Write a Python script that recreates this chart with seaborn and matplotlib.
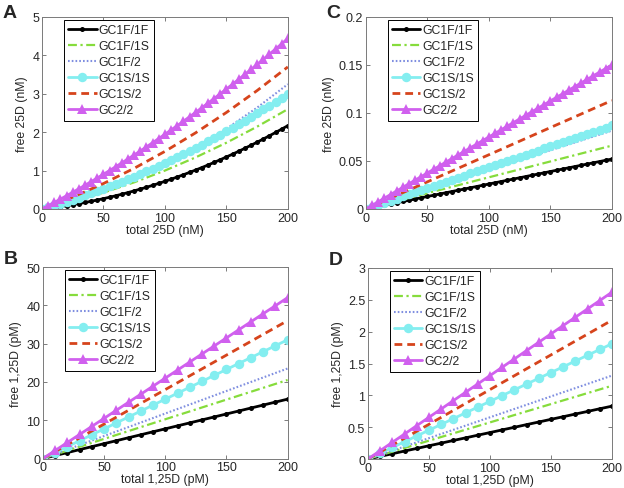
import matplotlib
matplotlib.use("Agg")
import matplotlib.pyplot as plt
import matplotlib.ticker as mticker
import seaborn as sns

# x grids
x_fine = [0, 5, 10, 15, 20, 25, 30, 35, 40, 45, 50, 55, 60, 65, 70, 75, 80, 85, 90, 95,
          100, 105, 110, 115, 120, 125, 130, 135, 140, 145, 150, 155, 160, 165, 170, 175,
          180, 185, 190, 195, 200]
x_coarse = [0, 10, 20, 30, 40, 50, 60, 70, 80, 90, 100, 110, 120, 130, 140, 150, 160,
            170, 180, 190, 200]
x_sparse_a = [0, 25, 50, 75, 100, 125, 150, 175, 200]
x_sparse = [0, 50, 100, 150, 200]

labels = ["GC1F/1F", "GC1F/1S", "GC1F/2", "GC1S/1S", "GC1S/2", "GC2/2"]

# panel A: free 25D (nM)
a_1f1f = [0, 0.019, 0.039, 0.062, 0.086, 0.112, 0.139, 0.169, 0.200, 0.234, 0.269, 0.306,
          0.344, 0.385, 0.427, 0.472, 0.518, 0.565, 0.615, 0.667, 0.720, 0.775, 0.832, 0.891,
          0.952, 1.014, 1.078, 1.144, 1.212, 1.282, 1.354, 1.427, 1.502, 1.580, 1.658, 1.739,
          1.822, 1.906, 1.992, 2.080, 2.170]
a_1f1s = [0, 0.194, 0.425, 0.694, 1.0, 1.344, 1.725, 2.144, 2.6]
a_1f2 = [0, 0.202, 0.463, 0.782, 1.159, 1.594, 2.088, 2.640, 3.25]
a_1s1s = [0, 0.046, 0.093, 0.142, 0.192, 0.244, 0.297, 0.352, 0.408, 0.466, 0.525, 0.586,
          0.648, 0.712, 0.777, 0.844, 0.912, 0.982, 1.053, 1.126, 1.200, 1.276, 1.353, 1.432,
          1.512, 1.594, 1.677, 1.762, 1.848, 1.936, 2.025, 2.116, 2.208, 2.302, 2.397, 2.494,
          2.592, 2.692, 2.793, 2.896, 3.000]
a_1s2 = [0, 0.309, 0.663, 1.059, 1.5, 1.984, 2.513, 3.084, 3.7]
a_22 = [0, 0.084, 0.170, 0.257, 0.345, 0.435, 0.526, 0.618, 0.712, 0.807, 0.904, 1.002,
        1.101, 1.202, 1.304, 1.407, 1.512, 1.618, 1.726, 1.835, 1.945, 2.057, 2.170, 2.284,
        2.400, 2.517, 2.636, 2.756, 2.877, 3.000, 3.124, 3.249, 3.376, 3.504, 3.634, 3.765,
        3.897, 4.031, 4.166, 4.302, 4.440]

# panel C: free 25D (nM)
c_1f1f = [0, 0.0013, 0.0026, 0.0039, 0.0052, 0.0065, 0.0078, 0.0091, 0.0104, 0.0117, 0.013,
          0.0143, 0.0156, 0.0169, 0.0182, 0.0195, 0.0208, 0.0221, 0.0234, 0.0247, 0.026,
          0.0273, 0.0286, 0.0299, 0.0312, 0.0325, 0.0338, 0.0351, 0.0364, 0.0377, 0.039,
          0.0403, 0.0416, 0.0429, 0.0442, 0.0455, 0.0468, 0.0481, 0.0494, 0.0507, 0.052]
c_1f1s = [0, 0.0165, 0.033, 0.0495, 0.066]
c_1f2 = [0, 0.0204, 0.0408, 0.0612, 0.0816]
c_1s1s = [0, 0.0022, 0.0044, 0.0065, 0.0087, 0.0109, 0.0131, 0.0152, 0.0174, 0.0196, 0.0218,
          0.0239, 0.0261, 0.0283, 0.0305, 0.0326, 0.0348, 0.037, 0.0392, 0.0413, 0.0435,
          0.0457, 0.0479, 0.05, 0.0522, 0.0544, 0.0566, 0.0587, 0.0609, 0.0631, 0.0653,
          0.0674, 0.0696, 0.0718, 0.074, 0.0761, 0.0783, 0.0805, 0.0827, 0.0848, 0.087]
c_1s2 = [0, 0.0283, 0.0565, 0.0848, 0.113]
c_22 = [0, 0.0038, 0.0075, 0.0113, 0.015, 0.0188, 0.0225, 0.0263, 0.03, 0.0338, 0.0375,
        0.0413, 0.045, 0.0488, 0.0525, 0.0563, 0.06, 0.0638, 0.0675, 0.0713, 0.075, 0.0788,
        0.0825, 0.0863, 0.09, 0.0938, 0.0975, 0.1013, 0.105, 0.1088, 0.1125, 0.1163, 0.12,
        0.1238, 0.1275, 0.1313, 0.135, 0.1388, 0.1425, 0.1463, 0.15]

# panel B: free 1,25D (pM)
b_1f1f = [0, 0.78, 1.55, 2.33, 3.1, 3.88, 4.65, 5.43, 6.2, 6.98, 7.75, 8.53, 9.3, 10.08,
          10.85, 11.63, 12.4, 13.18, 13.95, 14.73, 15.5]
b_1f1s = [0, 5.13, 10.25, 15.38, 20.5]
b_1f2 = [0, 5.88, 11.75, 17.63, 23.5]
b_1s1s = [0, 1.55, 3.1, 4.65, 6.2, 7.75, 9.3, 10.85, 12.4, 13.95, 15.5, 17.05, 18.6, 20.15,
          21.7, 23.25, 24.8, 26.35, 27.9, 29.45, 31]
b_1s2 = [0, 9, 18, 27, 36]
b_22 = [0, 2.1, 4.2, 6.3, 8.4, 10.5, 12.6, 14.7, 16.8, 18.9, 21, 23.1, 25.2, 27.3, 29.4,
        31.5, 33.6, 35.7, 37.8, 39.9, 42]

# panel D: free 1,25D (pM)
d_1f1f = [0, 0.042, 0.083, 0.125, 0.166, 0.208, 0.249, 0.291, 0.332, 0.374, 0.415, 0.457,
          0.498, 0.54, 0.581, 0.623, 0.664, 0.706, 0.747, 0.789, 0.83]
d_1f1s = [0, 0.288, 0.575, 0.863, 1.15]
d_1f2 = [0, 0.328, 0.655, 0.983, 1.31]
d_1s1s = [0, 0.091, 0.181, 0.272, 0.362, 0.453, 0.543, 0.634, 0.724, 0.815, 0.905, 0.996,
          1.086, 1.177, 1.267, 1.358, 1.448, 1.539, 1.629, 1.72, 1.81]
d_1s2 = [0, 0.545, 1.09, 1.635, 2.18]
d_22 = [0, 0.131, 0.262, 0.393, 0.524, 0.655, 0.786, 0.917, 1.048, 1.179, 1.31, 1.441,
        1.572, 1.703, 1.834, 1.965, 2.096, 2.227, 2.358, 2.489, 2.62]

sns.set_style("ticks")
plt.rcParams["font.family"] = ["Liberation Sans", "DejaVu Sans"]

# matlab-ish line styles
styles = [
    dict(color="black", linestyle="-", marker="o", markersize=3.6, linewidth=2.0),
    dict(color="#86dc3c", linestyle=(0, (4, 1.6, 1, 1.6)), marker=None, linewidth=1.6),
    dict(color="#7f8ee0", linestyle=(0, (0.8, 1.0)), marker=None, linewidth=1.5),
    dict(color="#84eef0", linestyle="-", marker="o", markersize=6.8, linewidth=2.0),
    dict(color="#d6441c", linestyle=(0, (2.8, 1.8)), marker=None, linewidth=2.0),
    dict(color="#d060ee", linestyle="-", marker="^", markersize=7.8, linewidth=2.0),
]


def panel(ax, xm, xl, series, ymax, yticks, xlabel, ylabel, letter, letter_y):
    for i, (lab, ys) in enumerate(zip(labels, series)):
        xs = xm if styles[i]["marker"] else xl
        sns.lineplot(x=xs, y=ys, ax=ax, label=lab, sort=False,
                     markeredgewidth=0, **styles[i])
    ax.set_xlim(0, 200)
    ax.set_ylim(0, ymax)
    ax.set_xticks([0, 50, 100, 150, 200])
    ax.set_yticks(yticks)
    ax.yaxis.set_major_formatter(mticker.FormatStrFormatter("%g"))
    ax.tick_params(direction="in", top=True, right=True, length=3, width=0.6,
                   color="#666666", labelsize=9, pad=2)
    for s in ax.spines.values():
        s.set_color("#7a7a7a")
        s.set_linewidth(0.7)
    ax.set_xlabel(xlabel, fontsize=8.8, labelpad=0)
    ax.set_ylabel(ylabel, fontsize=8.8, labelpad=3)
    leg = ax.legend(loc="upper left", bbox_to_anchor=(0.09, 0.985), fontsize=8.8,
                    frameon=True, fancybox=False, framealpha=1, edgecolor="black",
                    handlelength=2.3, handletextpad=0.15, labelspacing=0.33,
                    borderpad=0.35, borderaxespad=0)
    leg.get_frame().set_linewidth(0.7)
    ax.text(-0.16, letter_y, letter, transform=ax.transAxes, fontsize=14,
            fontweight="bold", ha="left", va="center")


fig = plt.figure(figsize=(6.24, 4.89), dpi=100)
axA = fig.add_axes([0.0673, 0.5706, 0.394, 0.3926])
axC = fig.add_axes([0.5865, 0.5706, 0.394, 0.3926])
axB = fig.add_axes([0.0689, 0.0603, 0.392, 0.3916])
axD = fig.add_axes([0.5897, 0.0593, 0.391, 0.3906])

panel(axA, x_fine, x_sparse_a, [a_1f1f, a_1f1s, a_1f2, a_1s1s, a_1s2, a_22],
      5, [0, 1, 2, 3, 4, 5], "total 25D (nM)", "free 25D (nM)", "A", 1.026)
panel(axC, x_fine, x_sparse, [c_1f1f, c_1f1s, c_1f2, c_1s1s, c_1s2, c_22],
      0.2, [0, 0.05, 0.1, 0.15, 0.2], "total 25D (nM)", "free 25D (nM)", "C", 1.026)
panel(axB, x_coarse, x_sparse, [b_1f1f, b_1f1s, b_1f2, b_1s1s, b_1s2, b_22],
      50, [0, 10, 20, 30, 40, 50], "total 1,25D (pM)", "free 1,25D (pM)", "B", 1.045)
panel(axD, x_coarse, x_sparse, [d_1f1f, d_1f1s, d_1f2, d_1s1s, d_1s2, d_22],
      3, [0, 0.5, 1, 1.5, 2, 2.5, 3], "total 1,25D (pM)", "free 1,25D (pM)", "D", 1.045)

fig.savefig("out.png", dpi=100)
